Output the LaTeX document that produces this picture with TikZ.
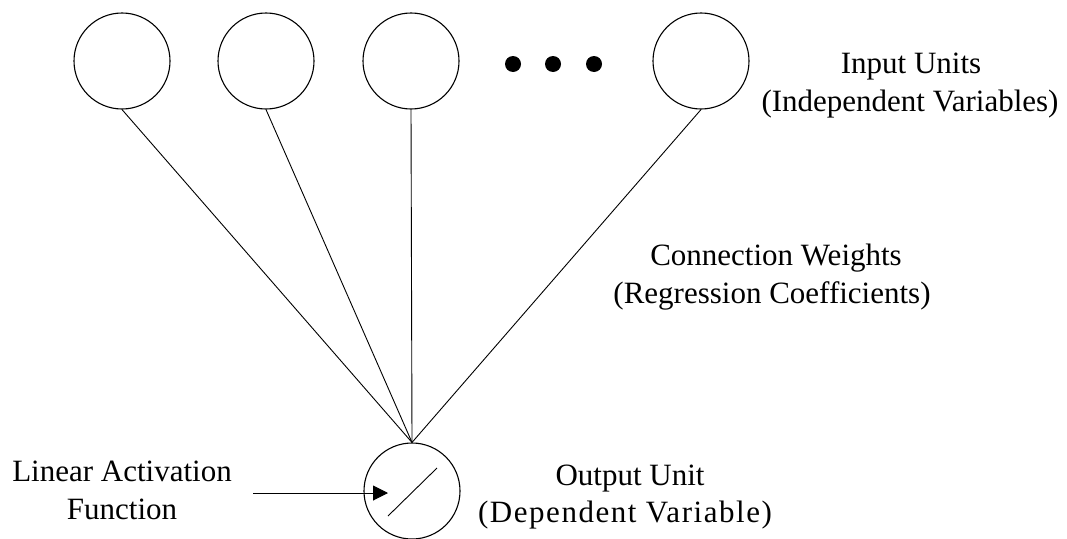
\documentclass[tikz,border=0pt]{standalone}
\usepackage{fontspec}
\setmainfont{Liberation Serif}
\usetikzlibrary{arrows.meta,calc}

\tikzset{
  unit/.style={circle, draw, line width=1.1pt, minimum size=96pt, inner sep=0pt},
  link/.style={line width=0.9pt},
  lbl/.style={anchor=base, inner sep=0pt, font=\fontsize{31}{38}\selectfont},
  spaced/.style={font=\fontsize{31}{38}\selectfont\addfontfeatures{LetterSpace=5}},
  ellipsisdot/.style={circle, fill, minimum size=16pt, inner sep=0pt},
  pointer/.style={line width=1pt, -{Triangle[length=15pt,width=15pt]}}
}

\begin{document}
\begin{tikzpicture}[x=1pt, y=-1pt]
  \useasboundingbox (0,0) rectangle (1067,538);

  % input layer
  \node[unit] (in1) at (122,61) {};
  \node[unit] (in2) at (266,61) {};
  \node[unit] (in3) at (411,61) {};
  \node[unit] (in4) at (701,61) {};
  \node[ellipsisdot] (d1) at (513,64) {};
  \node[ellipsisdot] (d2) at (553,64) {};
  \node[ellipsisdot] (d3) at (594,64) {};

  % output unit with its linear activation
  \node[unit] (out) at (412,491) {};
  \draw[link] ($(out.center)+(-24,25)$) -- ($(out.center)+(25,-23)$);

  % connection weights
  \foreach \i in {1,2,3,4}
    \draw[link] (in\i.south) -- (out.north);

  % pointer to the activation function
  \coordinate (arrowstart) at (253,493);
  \coordinate (arrowtip) at ($(out.center)+(-24,2)$);
  \draw[pointer] (arrowstart) -- (arrowtip);

  % labels
  \node[lbl] (inA) at (911,73) {Input Units};
  \node[lbl] (inB) at (910,111) {(Independent Variables)};
  \node[lbl] (wA) at (776,265) {Connection Weights};
  \node[lbl] (wB) at (772,303) {(Regression Coefficients)};
  \node[lbl] (oA) at (630,485) {Output Unit};
  \node[lbl, spaced] (oB) at (625,522) {(Dependent Variable)};
  \node[lbl] (fA) at (122,481) {Linear Activation};
  \node[lbl] (fB) at (122,519) {Function};
\end{tikzpicture}
\end{document}
